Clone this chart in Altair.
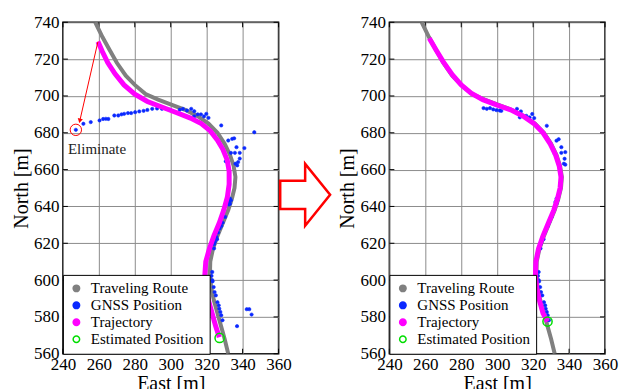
import altair as alt
import pandas as pd

FONT = "Liberation Serif"

SERIES = ["Traveling Route", "GNSS Position", "Trajectory", "Estimated Position"]
SERIES_STROKE = ["#808080", "#0a28ff", "#ff00ff", "#00dd00"]
SERIES_FILL = ["#808080", "#0a28ff", "#ff00ff", "transparent"]

x_ticks = [240, 260, 280, 300, 320, 340, 360]
y_ticks = [560, 580, 600, 620, 640, 660, 680, 700, 720, 740]

route_east = [258, 262, 266, 270, 275, 280, 286, 293, 301, 308, 315, 321, 326, 330, 333,
              335, 336, 335.5, 334, 332, 329, 326, 323.5, 322, 321.8, 322.5, 324, 326, 328, 330, 332]
route_north = [740, 732, 725, 718, 711, 706, 701, 698, 695, 692.5, 689, 685, 680, 674, 668,
               662, 656, 650, 644, 638, 631, 624, 617, 610, 603, 596, 589, 582, 575, 568, 560]

traj_before_east = [259.5, 262, 265, 269, 274, 280, 287, 295, 303, 311, 317, 322, 326, 329, 331.5,
                    332.5, 332.5, 331.5, 329.5, 327, 324, 321.5, 319.5, 319, 319.5, 321, 323, 325, 327]
traj_before_north = [729.5, 724, 718, 712, 706, 701, 697, 694, 691, 688, 685, 681, 676, 671, 665,
                     659, 652, 645, 638, 631, 624, 617, 610, 603, 596, 589, 582, 575, 569]

traj_after_east = [262.2, 266, 270, 275, 280, 285.5, 292, 300, 307.5, 314.5, 320.5, 325.5, 329.5,
                   332.5, 334.5, 335.5, 335, 333.5, 331.5, 328.5, 325.5, 323, 321.5, 321.3, 322,
                   323.5, 325.5, 328]
traj_after_north = [731.3, 725, 718.5, 711.5, 706, 701.5, 698, 695, 692.5, 689, 685, 680, 674,
                    668, 662, 656, 650, 644, 638, 631, 624, 617, 610, 603, 596, 589, 582, 577.5]

gnss_before_east = [247.2, 251.4, 255.5, 260.4, 262.4, 263.9, 265.3, 268.6, 270.8, 272.6, 274.1,
                    276.2, 278, 280.2, 282.5, 284.9, 287, 289.7, 292.4, 295.1, 299.6, 305, 306.8,
                    309, 311.4, 313.1, 313, 315, 316.8, 318.5, 319.8, 321, 328.1, 346.5,
                    334.2, 335.3, 332, 336.6, 341, 333.5, 335.7, 338.4, 330.6, 336, 337.5, 338.4, 337,
                    333, 332.4, 333.5, 333, 332.4, 330.3, 328.9, 328.2, 327.2, 326.4, 325.4, 325.8,
                    324.6, 324.1, 324.2,
                    323.1, 322.7, 323.1, 323.3, 323.9, 324.4, 325.1, 326, 326.7, 327, 327.6, 328.1,
                    328.8, 342.3, 343.7, 345, 336.9]
gnss_before_north = [681.6, 684.9, 685.8, 686.7, 687.5, 687.6, 687.5, 689.4, 689.4, 690, 690.3,
                     690.7, 690.7, 691.2, 691.6, 691.9, 692.4, 693, 693.2, 693, 692.5, 692.5, 693,
                     692.1, 693, 691.7, 688.9, 690, 690, 688.9, 690.3, 688.1, 684, 680.3,
                     676.7, 677, 675.8, 672.2, 671.7, 669.1, 669.1, 669.1, 664.5, 663.2, 664.1, 666, 662.3,
                     644.2, 642.4, 643.3, 641.5, 641, 634.3, 631.2, 629.4, 628, 625.8, 623.5, 622.2,
                     620.8, 617.2, 619.5,
                     604.4, 602.3, 600, 599.3, 596.2, 593.5, 591.7, 588, 586.3, 584.5, 582.7, 580.9,
                     578.2, 584.2, 584.2, 581.3, 575]

gnss_after_east = [292.4, 294.2, 296, 297.8, 299.6, 301.4, 302.3, 311, 313.2, 312.6, 316.2, 319.5,
                   318, 320.6, 327.6, 334.2, 333, 332, 335.7, 335.7, 337.9, 337.5, 337.1, 337.9,
                   333, 332.4, 333.5, 333, 332.4, 330.3, 328.9, 328.2, 327.2, 326.4, 325.4, 325.8,
                   324.6, 324.1, 324.2,
                   323.1, 322.7, 323.1, 323.3, 323.9, 324.4, 325.1, 326, 326.7, 327, 327.6, 328.1,
                   328.8]
gnss_after_north = [693.4, 693, 693.4, 692.7, 692.3, 692.1, 691.9, 693, 691.6, 688.4, 689.2, 690.2,
                    688.4, 688, 683.8, 676.5, 675.7, 668.6, 672.2, 669.1, 669.5, 665.9, 663.2, 662.7,
                    644.2, 642.4, 643.3, 641.5, 641, 634.3, 631.2, 629.4, 628, 625.8, 623.5, 622.2,
                    620.8, 617.2, 619.5,
                    604.4, 602.3, 600, 599.3, 596.2, 593.5, 591.7, 588, 586.3, 584.5, 582.7, 580.9,
                    578.2]

est_before = [327.2, 568.6]
est_after = [328.0, 577.5]

eliminated_point = [247.2, 681.6]
eliminate_arrow_east = [259.5, 249.4]
eliminate_arrow_north = [729.5, 686.5]
eliminate_label = ["Eliminate", 259.0, 671.0]
shift_arrow = [374.8, 646.3]

W, H = 216, 332
xs = alt.Scale(domain=[240, 360], nice=False, zero=False)
ys = alt.Scale(domain=[560, 740], nice=False, zero=False)

xax = alt.Axis(values=x_ticks, title="East [m]", grid=True, gridColor="#8c8c8c", gridWidth=1,
               domain=False, ticks=False, labelFont=FONT, labelFontSize=17, labelColor="black",
               labelPadding=3, titleFont=FONT, titleFontSize=20, titleFontWeight="normal",
               titleColor="black", titlePadding=1, labelFlush=False)
yax = alt.Axis(values=y_ticks, title="North [m]", grid=True, gridColor="#8c8c8c", gridWidth=1,
               domain=False, ticks=False, labelFont=FONT, labelFontSize=17, labelColor="black",
               labelPadding=4, titleFont=FONT, titleFontSize=20, titleFontWeight="normal",
               titleColor="black", titlePadding=2, labelFlush=False)


def X(f):
    return alt.X(f + ":Q", scale=xs, axis=xax)


def Y(f):
    return alt.Y(f + ":Q", scale=ys, axis=yax)


legend = alt.Legend(title=None, orient="bottom-left", offset=0, padding=6, strokeColor="black",
                    fillColor="white", labelFont=FONT, labelFontSize=15, labelColor="black",
                    symbolSize=42, symbolType="circle", rowPadding=1, labelOffset=7,
                    symbolStrokeWidth=1.5, cornerRadius=0)
fill_enc = alt.Fill("series:N", scale=alt.Scale(domain=SERIES, range=SERIES_FILL), legend=legend)
stroke_enc = alt.Stroke("series:N", scale=alt.Scale(domain=SERIES, range=SERIES_STROKE), legend=legend)


def line_layer(east, north, color, width):
    df = pd.DataFrame({"e": east, "n": north, "i": list(range(len(east)))})
    return alt.Chart(df).mark_line(color=color, strokeWidth=width, clip=True).encode(
        x=X("e"), y=Y("n"), order="i:Q")


def tick_layers():
    tx = pd.DataFrame({"t": x_ticks})
    ty = pd.DataFrame({"t": y_ticks})
    bottom = alt.Chart(tx).mark_rule(color="black", strokeWidth=1).encode(
        x=X("t"), y=alt.value(H), y2=alt.value(H - 5))
    top = alt.Chart(tx).mark_rule(color="black", strokeWidth=1).encode(
        x=X("t"), y=alt.value(0), y2=alt.value(5))
    left = alt.Chart(ty).mark_rule(color="black", strokeWidth=1).encode(
        y=Y("t"), x=alt.value(0), x2=alt.value(5))
    right = alt.Chart(ty).mark_rule(color="black", strokeWidth=1).encode(
        y=Y("t"), x=alt.value(W), x2=alt.value(W - 5))
    return [bottom, top, left, right]


def panel(traj_e, traj_n, gnss_e, gnss_n, est, annotate):
    route = line_layer(route_east, route_north, "#808080", 4)
    traj = line_layer(traj_e, traj_n, "#ff00ff", 5)
    gdf = pd.DataFrame({"e": gnss_e, "n": gnss_n, "series": "GNSS Position"})
    gnss = alt.Chart(gdf).mark_point(shape="circle", size=11, strokeWidth=0.6, opacity=1).encode(
        x=X("e"), y=Y("n"), fill=fill_enc, stroke=stroke_enc)
    edf = pd.DataFrame({"e": [est[0]], "n": [est[1]], "series": ["Estimated Position"]})
    estp = alt.Chart(edf).mark_point(shape="circle", size=85, strokeWidth=1.5, opacity=1).encode(
        x=X("e"), y=Y("n"), fill=fill_enc, stroke=stroke_enc)
    layers = tick_layers() + [route, gnss, traj, estp]
    if annotate:
        cdf = pd.DataFrame({"e": [eliminated_point[0]], "n": [eliminated_point[1]]})
        circ = alt.Chart(cdf).mark_point(shape="circle", size=130, color="red", strokeWidth=1,
                                          opacity=1, filled=False).encode(x=X("e"), y=Y("n"))
        adf = pd.DataFrame({"e": eliminate_arrow_east, "n": eliminate_arrow_north, "i": [0, 1]})
        aline = alt.Chart(adf).mark_line(color="red", strokeWidth=1).encode(
            x=X("e"), y=Y("n"), order="i:Q")
        hdf = pd.DataFrame({"e": [eliminate_arrow_east[1]], "n": [eliminate_arrow_north[1]]})
        head = alt.Chart(hdf).mark_point(shape="triangle-down", size=28, color="red", filled=True,
                                          opacity=1, angle=13).encode(x=X("e"), y=Y("n"))
        tdf = pd.DataFrame({"label": [eliminate_label[0]], "e": [eliminate_label[1]],
                            "n": [eliminate_label[2]]})
        txt = alt.Chart(tdf).mark_text(font=FONT, fontSize=15, color="#222222", align="center",
                                       baseline="middle").encode(x=X("e"), y=Y("n"), text="label:N")
        sdf = pd.DataFrame({"e": [shift_arrow[0]], "n": [shift_arrow[1]]})
        big = alt.Chart(sdf).mark_point(
            shape="M -0.806 -0.458 L 0 -0.458 L 0 -1 L 0.806 0 L 0 1 L 0 0.458 L -0.806 0.458 Z",
            size=3844, stroke="red", strokeWidth=2.5, fill="white", filled=True, opacity=1
        ).encode(x=X("e"), y=Y("n"))
        layers += [circ, aline, head, txt, big]
    return alt.layer(*layers).properties(width=W, height=H)


left = panel(traj_before_east, traj_before_north, gnss_before_east, gnss_before_north,
             est_before, True)
right = panel(traj_after_east, traj_after_north, gnss_after_east, gnss_after_north,
              est_after, False)

chart = alt.hconcat(left, right, spacing=0).resolve_scale(
    fill="independent", stroke="independent", x="independent", y="independent"
).resolve_legend(fill="independent", stroke="independent").configure_view(
    stroke="black", strokeWidth=1.5
).properties(background="white", padding={"left": 2, "top": 4, "right": 0, "bottom": 5})

chart.save("out.html", embed_options={"renderer": "svg", "actions": False})
